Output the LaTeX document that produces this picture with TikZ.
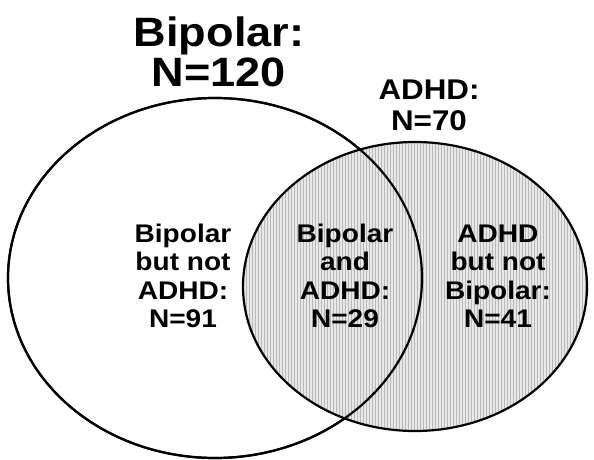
\documentclass[tikz,border=0pt]{standalone}
\usepackage{fontspec}
\newfontfamily\vennfont[FakeStretch=1.1]{Liberation Sans}
\usetikzlibrary{patterns}

\tikzset{
  setline/.style={line width=2.2pt},
  region/.style={align=center, font=\vennfont\bfseries\fontsize{25.5}{28.5}\selectfont},
  setname/.style={align=center, font=\vennfont\bfseries#1},
}

\begin{document}
\begin{tikzpicture}[x=1pt,y=-1pt]
  \useasboundingbox (0,0) rectangle (594,460);

  % the two sets
  \draw[setline] (215,278) ellipse [x radius=207pt, y radius=180pt];
  \fill[black!9] (415,286.5) ellipse [x radius=172pt, y radius=144.5pt];
  \fill[pattern=vertical lines, pattern color=black!28] (415,286.5) ellipse [x radius=172pt, y radius=144.5pt];
  \draw[setline] (415,286.5) ellipse [x radius=172pt, y radius=144.5pt];
  \draw[setline] (215,278) ellipse [x radius=207pt, y radius=180pt];


\node[setname={\fontsize{41}{40}\selectfont}] (bipolar) at (219,52) {Bipolar:\\N=120};


\node[setname={\fontsize{28.5}{31}\selectfont}] (adhd) at (429,105) {ADHD:\\N=70};



\node[region] (onlybip) at (183,276) {Bipolar\\but not\\ADHD:\\N=91};

\node[region] (both) at (345,276) {Bipolar\\and\\ADHD:\\N=29};

\node[region] (onlyadhd) at (498,276) {ADHD\\but not\\Bipolar:\\N=41};

\end{tikzpicture}
\end{document}
